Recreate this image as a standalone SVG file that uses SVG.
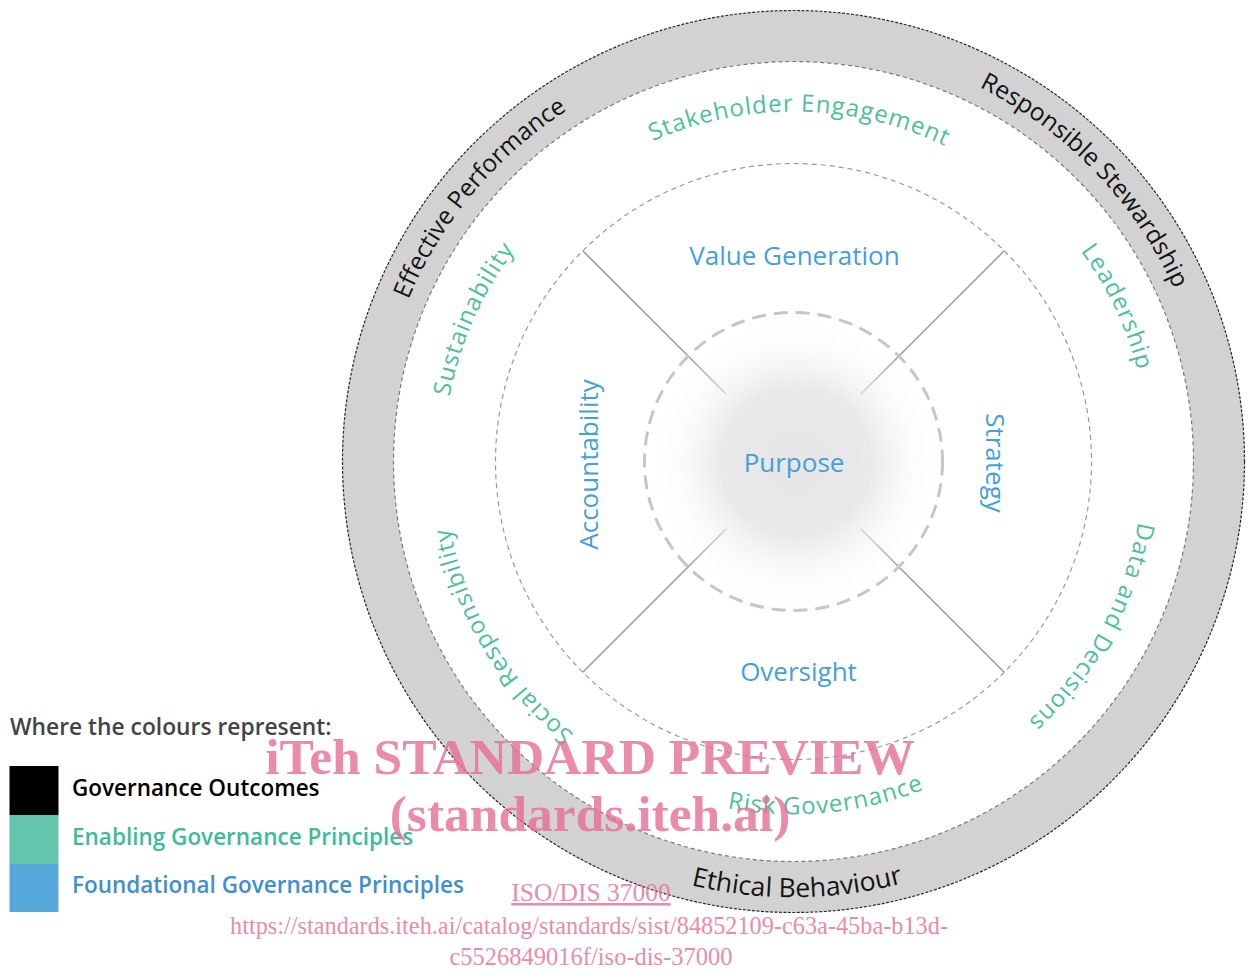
<svg xmlns="http://www.w3.org/2000/svg" width="1251" height="979" viewBox="0 0 1251 979">
  <defs>
    <style>
      .sans { font-family: "Open Sans", "Liberation Sans", sans-serif; }
      .outcome { font-size: 24.5px; fill: #141414; }
      .outcome.wide { font-size: 26.5px; }
      .enabling { font-size: 24px; fill: #4dbf9c; letter-spacing: 1px; }
      .foundation { font-size: 26px; fill: #459fdc; }
      .legend-title { font-size: 22.8px; font-weight: 600; fill: #444444; }
      .legend-item { font-size: 22.5px; font-weight: 600; }
      .wm { font-family: "Liberation Serif", "Times New Roman", serif; fill: #e66f94; opacity: 0.8; text-anchor: middle; }
      .spoke { stroke: #9a9a9a; stroke-width: 1.5; fill: none; }
    </style>
    <radialGradient id="coreGlow" cx="0.5" cy="0.5" r="0.5">
      <stop offset="0" stop-color="#e6e6e6" stop-opacity="1"/>
      <stop offset="0.5" stop-color="#e9e9e9" stop-opacity="1"/>
      <stop offset="1" stop-color="#ffffff" stop-opacity="0"/>
    </radialGradient>
    <!-- text arcs, all centred on the wheel hub (793.5, 461.5) -->
    <path id="arcOuterCW" d="M 375.5 461.5 A 418 418 0 0 1 1211.5 461.5"/>
    <path id="arcOuterCCW" d="M 357.5 461.5 A 436 436 0 0 0 1229.5 461.5"/>
    <path id="arcInnerCW" d="M 443.5 461.5 A 350 350 0 0 1 1143.5 461.5"/>
    <path id="arcInnerCWWide" d="M 437.5 461.5 A 356 356 0 0 1 1149.5 461.5"/>
    <path id="arcInnerCCW" d="M 440.5 461.5 A 353 353 0 0 0 1146.5 461.5"/>
  </defs>

  <rect width="1251" height="979" fill="#ffffff"/>

  <!-- outer band: governance outcomes -->
  <g id="outcome-ring">
    <circle cx="793.5" cy="461.5" r="425.5" fill="none" stroke="#d2d2d2" stroke-width="51"/>
    <circle cx="793.5" cy="461.5" r="451" fill="none" stroke="#2a2a2a" stroke-width="1.2" stroke-dasharray="3 1.5"/>
    <circle cx="793.5" cy="461.5" r="400" fill="none" stroke="#7a7a7a" stroke-width="1.2" stroke-dasharray="4 3"/>
  </g>

  <!-- middle ring -->
  <g id="principle-ring">
    <circle cx="793.5" cy="461.5" r="298" fill="none" stroke="#9a9a9a" stroke-width="1.2" stroke-dasharray="5 4"/>
  </g>

  <!-- spokes between the foundational quadrants -->
  <g id="connectors">
    <line class="spoke" x1="582.8" y1="250.8" x2="726.3" y2="394.3"/>
    <line class="spoke" x1="1004.2" y1="250.8" x2="860.7" y2="394.3"/>
    <line class="spoke" x1="582.8" y1="672.2" x2="726.3" y2="528.7"/>
    <line class="spoke" x1="1004.2" y1="672.2" x2="860.7" y2="528.7"/>
  </g>

  <g id="hub">
    <circle cx="796" cy="462" r="148" fill="url(#coreGlow)"/>
    <circle cx="793.5" cy="461.5" r="149" fill="none" stroke="#c6c6c6" stroke-width="3" stroke-dasharray="14 8"/>
    <text class="sans foundation" x="794" y="472" text-anchor="middle">Purpose</text>
  </g>

  <!-- governance outcomes -->
  <g id="effective-performance">
    <text class="sans outcome" transform="rotate(-50 793.5 461.5)"><textPath href="#arcOuterCW" startOffset="50%" text-anchor="middle">Effective Performance</textPath></text>
  </g>
  <g id="responsible-stewardship">
    <text class="sans outcome" transform="rotate(46 793.5 461.5)"><textPath href="#arcOuterCW" startOffset="50%" text-anchor="middle">Responsible Stewardship</textPath></text>
  </g>
  <g id="ethical-behaviour">
    <text class="sans outcome wide" transform="rotate(-0.5 793.5 461.5)"><textPath href="#arcOuterCCW" startOffset="50%" text-anchor="middle">Ethical Behaviour</textPath></text>
  </g>

  <!-- enabling principles -->
  <g id="stakeholder-engagement">
    <text class="sans enabling" transform="rotate(1 793.5 461.5)"><textPath href="#arcInnerCW" startOffset="50%" text-anchor="middle">Stakeholder Engagement</textPath></text>
  </g>
  <g id="leadership">
    <text class="sans enabling" transform="rotate(64.5 793.5 461.5)"><textPath href="#arcInnerCWWide" startOffset="50%" text-anchor="middle">Leadership</textPath></text>
  </g>
  <g id="data-and-decisions">
    <text class="sans enabling" transform="rotate(119 793.5 461.5)"><textPath href="#arcInnerCW" startOffset="50%" text-anchor="middle">Data and Decisions</textPath></text>
  </g>
  <g id="risk-governance">
    <text class="sans enabling" transform="rotate(-5.5 793.5 461.5)"><textPath href="#arcInnerCCW" startOffset="50%" text-anchor="middle">Risk Governance</textPath></text>
  </g>
  <g id="social-responsibility">
    <text class="sans enabling" transform="rotate(-121 793.5 461.5)"><textPath href="#arcInnerCW" startOffset="50%" text-anchor="middle">Social Responsibility</textPath></text>
  </g>
  <g id="sustainability">
    <text class="sans enabling" transform="rotate(-66 793.5 461.5)"><textPath href="#arcInnerCW" startOffset="50%" text-anchor="middle">Sustainability</textPath></text>
  </g>

  <!-- foundational principles -->
  <g id="value-generation">
    <text class="sans foundation" x="794.5" y="265" text-anchor="middle">Value Generation</text>
  </g>
  <g id="strategy">
    <text class="sans foundation" transform="translate(986 463) rotate(90)" text-anchor="middle">Strategy</text>
  </g>
  <g id="oversight">
    <text class="sans foundation" x="798.5" y="681" text-anchor="middle">Oversight</text>
  </g>
  <g id="accountability">
    <text class="sans foundation" transform="translate(598 464.5) rotate(-90)" text-anchor="middle">Accountability</text>
  </g>

  <!-- colour key -->
  <g id="legend">
    <text class="sans legend-title" x="10" y="735">Where the colours represent:</text>
    <rect x="9.5" y="766" width="49" height="49" fill="#000000"/>
    <rect x="9.5" y="815" width="49" height="49" fill="#63c5ab"/>
    <rect x="9.5" y="864" width="49" height="48" fill="#57a9dc"/>
    <text class="sans legend-item" x="72" y="796" fill="#000000" font-weight="700">Governance Outcomes</text>
    <text class="sans legend-item" x="72" y="845" fill="#3dbb9a">Enabling Governance Principles</text>
    <text class="sans legend-item" x="72" y="893" fill="#3f8fd0">Foundational Governance Principles</text>
  </g>

  <!-- preview stamp -->
  <g id="preview-stamp">
    <text class="wm" x="590" y="774" font-size="51.5" font-weight="700">iTeh STANDARD PREVIEW</text>
    <text class="wm" x="590" y="831" font-size="51.5" font-weight="700">(standards.iteh.ai)</text>
    <text class="wm" x="591" y="901" font-size="25.5" text-decoration="underline">ISO/DIS 37000</text>
    <text class="wm" x="589" y="934" font-size="24.3">https://standards.iteh.ai/catalog/standards/sist/84852109-c63a-45ba-b13d-</text>
    <text class="wm" x="591" y="965" font-size="24.5">c5526849016f/iso-dis-37000</text>
  </g>
</svg>
